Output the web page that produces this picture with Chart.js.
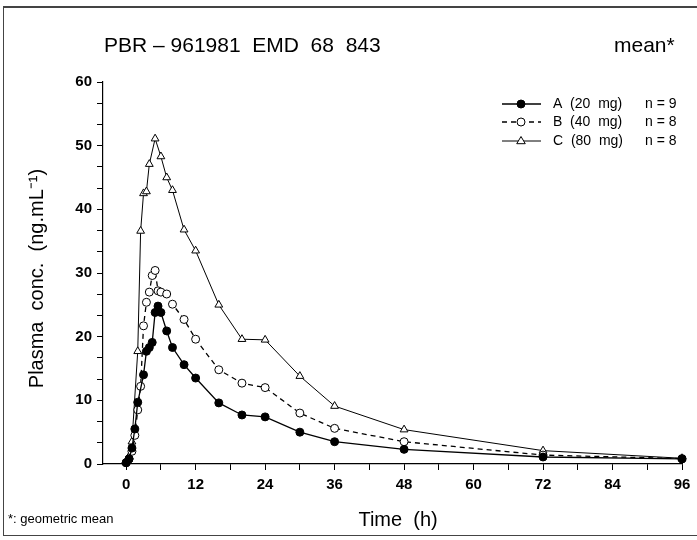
<!DOCTYPE html>
<html>
<head>
<meta charset="utf-8">
<script src="https://cdn.jsdelivr.net/npm/chart.js@4/dist/chart.umd.min.js"></script>
<style>
  body { margin: 0; background: #fff; overflow: hidden; }
  #wrap { position: relative; width: 697px; height: 540px; }
  #frame { position: absolute; left: 3px; top: 6px; width: 700px; height: 530px;
           border: 1px solid #444; border-top-width: 2px; box-sizing: border-box; }
  .txt { position: absolute; font-family: "Liberation Sans", Arial, sans-serif; color: #000; white-space: pre; }
  #title { left: 104px; top: 33px; font-size: 21px; }
  #mean { left: 614px; top: 33px; font-size: 21px; }
  #foot { left: 8px; top: 511px; font-size: 13px; }
  canvas { position: absolute; left: 0; top: 0; }
</style>
</head>
<body>
<div id="wrap">
  <div id="frame"></div>
  <canvas id="chart" width="697" height="540"></canvas>
  <div class="txt" id="title">PBR – 961981  EMD  68  843</div>
  <div class="txt" id="mean">mean*</div>
  <div class="txt" id="foot">*: geometric mean</div>
</div>
<script>
// time (h) and plasma concentration (ng/mL)
var timeA = [0, 0.5, 1, 1.5, 2, 3, 3.5, 4, 4.5, 5, 5.5, 6, 7, 8, 10, 12, 16, 20, 24, 30, 36, 48, 72, 96];
var concA = [0.2, 0.8, 2.5, 5.5, 9.7, 14, 17.7, 18.3, 19.1, 23.8, 24.8, 23.8, 20.9, 18.3, 15.6, 13.5, 9.6, 7.7, 7.4, 5, 3.5, 2.3, 1.1, 0.8];

var timeB = [0, 0.5, 1, 1.5, 2, 2.5, 3, 3.5, 4, 4.5, 5, 5.5, 6, 7, 8, 10, 12, 16, 20, 24, 30, 36, 48, 72, 96];
var concB = [0.2, 0.8, 2, 4.5, 8.5, 12.2, 21.7, 25.4, 27, 29.6, 30.4, 27.2, 27, 26.7, 25.1, 22.7, 19.6, 14.8, 12.7, 12, 8, 5.6, 3.5, 1.4, 0.85];

var timeC = [0, 0.5, 1, 2, 2.5, 3, 3.5, 4, 5, 6, 7, 8, 10, 12, 16, 20, 24, 30, 36, 48, 72, 96];
var concC = [0.3, 1.2, 3.5, 17.7, 36.6, 42.5, 42.8, 47.1, 51.1, 48.3, 45, 43, 36.8, 33.5, 25, 19.6, 19.5, 13.8, 9.1, 5.4, 2.1, 0.9];

var groupLabels = ["A (20 mg)", "B (40 mg)", "C (80 mg)"];
var groupN = ["n = 9", "n = 8", "n = 8"];
var xTickLabels = [0, 12, 24, 36, 48, 60, 72, 84, 96];
var yTickLabels = [0, 10, 20, 30, 40, 50, 60];

function toPoints(t, c) {
    return t.map(function (v, i) { return { x: v, y: c[i] }; });
}

var tickFont = { family: '"Liberation Sans", Arial, sans-serif', size: 15, weight: 'bold' };

// legend drawn inside the plot, top right
var insideLegend = {
    id: 'insideLegend',
    afterDraw: function (chart) {
        var ctx = chart.ctx;
        var rows = [104, 122, 141];
        chart.data.datasets.forEach(function (ds, i) {
            var y = rows[i];
            ctx.save();
            ctx.strokeStyle = '#000';
            ctx.lineWidth = ds.borderWidth;
            ctx.setLineDash(ds.borderDash || []);
            ctx.beginPath();
            ctx.moveTo(502, y);
            ctx.lineTo(541, y);
            ctx.stroke();
            ctx.setLineDash([]);
            ctx.lineWidth = 1;
            ctx.fillStyle = ds.pointBackgroundColor;
            ctx.beginPath();
            if (ds.pointStyle === 'triangle') {
                var r = ds.pointRadius;
                ctx.moveTo(521, y - r);
                ctx.lineTo(521 + r * 0.95, y + r * 0.6);
                ctx.lineTo(521 - r * 0.95, y + r * 0.6);
                ctx.closePath();
            } else {
                ctx.arc(521, y, ds.pointRadius, 0, Math.PI * 2);
            }
            ctx.fill();
            ctx.stroke();
            ctx.fillStyle = '#000';
            ctx.font = '14px "Liberation Sans", Arial, sans-serif';
            ctx.textBaseline = 'middle';
            ctx.fillText(groupLabels[i].replace('(', ' (').replace(' mg', '  mg'), 553, y);
            ctx.fillText(groupN[i], 645, y);
            ctx.restore();
        });
    }
};

var ctx = document.getElementById('chart').getContext('2d');
var pkChart = new Chart(ctx, {
    type: 'line',
    data: {
        datasets: [{
            label: groupLabels[0],
            data: toPoints(timeA, concA),
            borderColor: '#000',
            borderWidth: 1.3,
            pointStyle: 'circle',
            pointRadius: 4,
            pointBackgroundColor: '#000',
            pointBorderColor: '#000',
            pointBorderWidth: 1,
            tension: 0
        },
        {
            label: groupLabels[1],
            data: toPoints(timeB, concB),
            borderColor: '#000',
            borderWidth: 1.3,
            borderDash: [5, 4],
            pointStyle: 'circle',
            pointRadius: 4,
            pointBackgroundColor: '#fff',
            pointBorderColor: '#000',
            pointBorderWidth: 1,
            tension: 0
        },
        {
            label: groupLabels[2],
            data: toPoints(timeC, concC),
            borderColor: '#000',
            borderWidth: 1,
            pointStyle: 'triangle',
            pointRadius: 4.5,
            pointBackgroundColor: '#fff',
            pointBorderColor: '#000',
            pointBorderWidth: 1,
            tension: 0
        }]
    },
    options: {
        responsive: false,
        animation: false,
        clip: false,
        layout: { padding: { left: 0, right: 15, top: 82, bottom: 0 } },
        plugins: {
            legend: { display: false },
            tooltip: { enabled: false }
        },
        scales: {
            x: {
                type: 'linear',
                min: -4,
                max: 96,
                afterFit: function (scale) { scale.height = 76; },
                ticks: {
                    stepSize: 6,
                    includeBounds: false,
                    autoSkip: false,
                    maxRotation: 0,
                    padding: 6,
                    color: '#000',
                    font: tickFont,
                    callback: function (v) { return xTickLabels.indexOf(v) >= 0 ? v : ''; }
                },
                grid: { drawOnChartArea: false, drawTicks: true, tickLength: 6, color: '#000' },
                border: { display: true, color: '#000', width: 1.2 },
                title: {
                    display: true,
                    text: '  Time  (h)',
                    color: '#000',
                    font: { family: '"Liberation Sans", Arial, sans-serif', size: 20 },
                    padding: { top: 0, bottom: 8 }
                }
            },
            y: {
                type: 'linear',
                min: 0,
                max: 60,
                afterFit: function (scale) { scale.width = 103; },
                ticks: {
                    stepSize: 10 / 3,
                    autoSkip: false,
                    padding: 5,
                    color: '#000',
                    font: tickFont,
                    callback: function (v) {
                        var r = Math.round(v);
                        return (Math.abs(v - r) < 1e-6 && yTickLabels.indexOf(r) >= 0) ? r : '';
                    }
                },
                grid: { drawOnChartArea: false, drawTicks: true, tickLength: 6, color: '#000' },
                border: { display: true, color: '#000', width: 1.2 },
                title: {
                    display: true,
                    text: 'Plasma  conc.  (ng.mL⁻¹)  ',
                    color: '#000',
                    font: { family: '"Liberation Sans", Arial, sans-serif', size: 20 },
                    padding: { top: 25, bottom: 0 }
                }
            }
        }
    },
    plugins: [insideLegend]
});
</script>
</body>
</html>
